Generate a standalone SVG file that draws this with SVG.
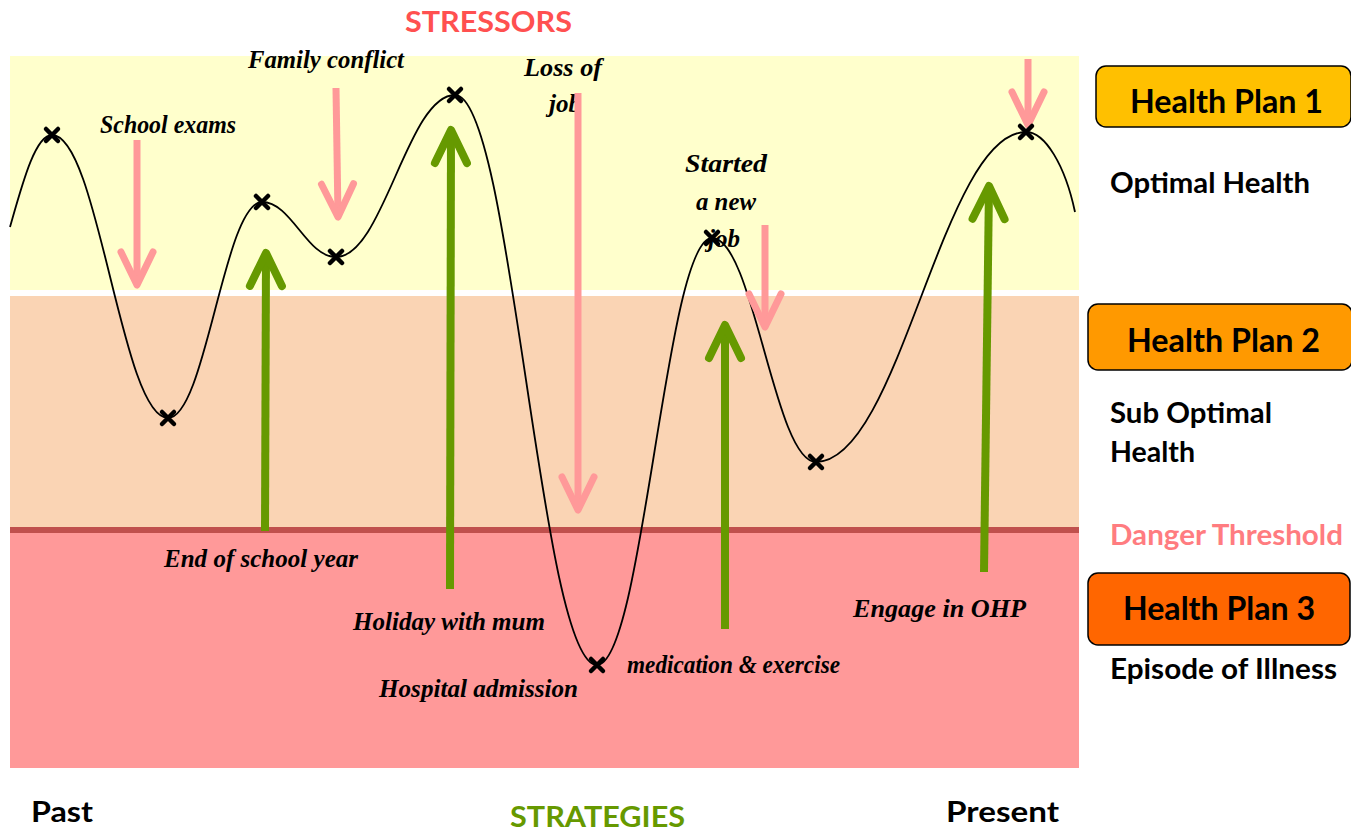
<svg xmlns="http://www.w3.org/2000/svg" width="1351" height="833" viewBox="0 0 1351 833">
<defs>
<style>
.script{font-family:"Liberation Serif","DejaVu Serif",serif;font-style:italic;font-weight:bold;font-size:25px;fill:#000}
.side{font-family:Lato,"Liberation Sans",sans-serif;font-weight:bold;fill:#000}
.plan{font-size:32px}
.state{font-size:28px}
.stress{fill:none;stroke:#FF9999;stroke-width:7}
.strat{fill:none;stroke:#669900;stroke-width:8}
.box{stroke:#000;stroke-width:1.5}
.xm{fill:none;stroke:#000;stroke-width:4.5;stroke-linecap:round}
</style>
<marker id="pinkHead" markerUnits="userSpaceOnUse" viewBox="-40 -20 45 40" markerWidth="45" markerHeight="40" refX="0" refY="0" orient="auto" overflow="visible">
<path d="M-33,-16 L0,0 L-33,16" fill="none" stroke="#FF9999" stroke-width="7" stroke-linecap="round" stroke-linejoin="round"/>
</marker>
<marker id="greenHead" markerUnits="userSpaceOnUse" viewBox="-40 -20 45 40" markerWidth="45" markerHeight="40" refX="0" refY="0" orient="auto" overflow="visible">
<path d="M-33,-16 L0,0 L-33,16" fill="none" stroke="#669900" stroke-width="8" stroke-linecap="round" stroke-linejoin="round"/>
</marker>
<path id="xmark" class="xm" d="M-6,-6 L6,6 M6,-6 L-6,6"/>
</defs>

<g id="bands">
<rect x="10" y="56" width="1069" height="234" fill="#FFFFCC"/>
<rect x="10" y="296" width="1069" height="232" fill="#FAD4B4"/>
<rect x="10" y="533" width="1069" height="235" fill="#FF9999"/>
<rect x="10" y="527" width="1069" height="6" fill="#C0504D"/>
</g>

<g id="event-labels">
<text class="script" x="100" y="133" textLength="136" lengthAdjust="spacingAndGlyphs">School exams</text>
<text class="script" x="248" y="68" textLength="156" lengthAdjust="spacingAndGlyphs">Family conflict</text>
<text class="script" x="524" y="76" textLength="78" lengthAdjust="spacingAndGlyphs">Loss of</text>
<text class="script" x="549" y="112" textLength="32" lengthAdjust="spacingAndGlyphs">job</text>
<text class="script" x="685" y="172" textLength="82" lengthAdjust="spacingAndGlyphs">Started</text>
<text class="script" x="696" y="210" textLength="60" lengthAdjust="spacingAndGlyphs">a new</text>
<text class="script" x="708" y="247" textLength="32" lengthAdjust="spacingAndGlyphs">job</text>
<text class="script" x="164" y="567" textLength="194" lengthAdjust="spacingAndGlyphs">End of school year</text>
<text class="script" x="353" y="630" textLength="192" lengthAdjust="spacingAndGlyphs">Holiday with mum</text>
<text class="script" x="379" y="697" textLength="199" lengthAdjust="spacingAndGlyphs">Hospital admission</text>
<text class="script" x="627" y="673" textLength="213" lengthAdjust="spacingAndGlyphs">medication &amp; exercise</text>
<text class="script" x="853" y="617" textLength="173" lengthAdjust="spacingAndGlyphs">Engage in OHP</text>
</g>

<g id="curve">
<path d="M10,227 C22,185 35,135 52,135 C98.4,135 121.6,418 168,418 C205.6,418 224.4,202 262,202 C291.6,202 306.4,257 336,257 C383.6,257 407.4,95 455,95 C511.8,95 540.2,665 597,665 C643,665 666,238 712,238 C753.6,238 774.4,462 816,462 C900,462 942,132 1026,132 C1045,132 1065,165 1075,212" fill="none" stroke="#000" stroke-width="1.8"/>
</g>

<g id="connectors">
<path class="stress" d="M137,140 L137,285" marker-end="url(#pinkHead)"/>
<path class="stress" d="M336,88 L338,217" marker-end="url(#pinkHead)"/>
<path class="stress" d="M578,93 L578,510" marker-end="url(#pinkHead)"/>
<path class="stress" d="M765,225 L765,327" marker-end="url(#pinkHead)"/>
<path class="stress" d="M1028,59 L1028,125" marker-end="url(#pinkHead)"/>
<path class="strat" d="M265,531 L266,253" marker-end="url(#greenHead)"/>
<path class="strat" d="M450,589 L451,130" marker-end="url(#greenHead)"/>
<path class="strat" d="M725,629 L725,325" marker-end="url(#greenHead)"/>
<path class="strat" d="M984,572 L989,186" marker-end="url(#greenHead)"/>
</g>

<g id="points">
<use href="#xmark" x="52" y="135"/>
<use href="#xmark" x="168" y="418"/>
<use href="#xmark" x="262" y="202"/>
<use href="#xmark" x="336" y="257"/>
<use href="#xmark" x="455" y="95"/>
<use href="#xmark" x="597" y="665"/>
<use href="#xmark" x="712" y="238"/>
<use href="#xmark" x="816" y="462"/>
<use href="#xmark" x="1026" y="132"/>
</g>

<g id="titles">
<text class="side" x="405" y="32" font-size="28" style="fill:#FF5050" textLength="167" lengthAdjust="spacingAndGlyphs">STRESSORS</text>
<text class="side" x="510" y="827" font-size="28" style="fill:#669900" textLength="175" lengthAdjust="spacingAndGlyphs">STRATEGIES</text>
<text class="side" x="31" y="822" font-size="28" textLength="62" lengthAdjust="spacingAndGlyphs">Past</text>
<text class="side" x="946" y="822" font-size="28" textLength="113" lengthAdjust="spacingAndGlyphs">Present</text>
</g>

<g id="plan1">
<rect class="box" x="1096" y="66" width="255" height="61" rx="10" fill="#FFC000"/>
<text class="side plan" x="1130" y="113" textLength="193" lengthAdjust="spacingAndGlyphs">Health Plan 1</text>
<text class="side state" x="1110" y="193" textLength="200" lengthAdjust="spacingAndGlyphs">Optimal Health</text>
</g>
<g id="plan2">
<rect class="box" x="1088" y="304" width="264" height="66" rx="10" fill="#FF9900"/>
<text class="side plan" x="1127" y="352" textLength="193" lengthAdjust="spacingAndGlyphs">Health Plan 2</text>
<text class="side state" x="1110" y="423" textLength="162" lengthAdjust="spacingAndGlyphs">Sub Optimal</text>
<text class="side state" x="1110" y="462" textLength="85" lengthAdjust="spacingAndGlyphs">Health</text>
</g>
<g id="threshold">
<text class="side state" x="1110" y="545" style="fill:#FF7C80" textLength="233" lengthAdjust="spacingAndGlyphs">Danger Threshold</text>
</g>
<g id="plan3">
<rect class="box" x="1088" y="573" width="262" height="72" rx="10" fill="#FF6600"/>
<text class="side plan" x="1123" y="620" textLength="192" lengthAdjust="spacingAndGlyphs">Health Plan 3</text>
<text class="side state" x="1110" y="679" textLength="227" lengthAdjust="spacingAndGlyphs">Episode of Illness</text>
</g>
</svg>
